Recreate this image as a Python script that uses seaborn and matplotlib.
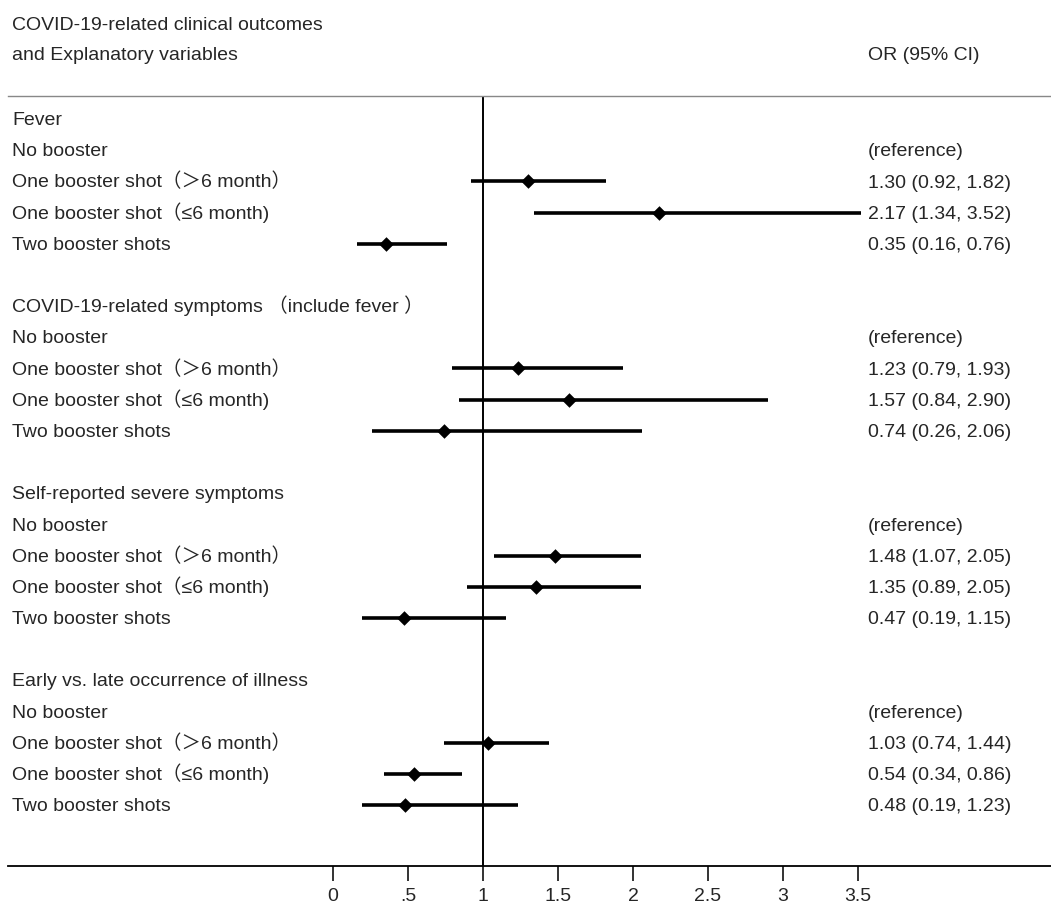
import numpy as np
import pandas as pd
import seaborn as sns
import matplotlib.pyplot as plt
import matplotlib.transforms as mtransforms

# rows of the forest plot, top to bottom ("" = blank spacer row)
labels = [
    "Fever", "No booster", "One booster shot（＞6 month）", "One booster shot（≤6 month)", "Two booster shots", "",
    "COVID-19-related symptoms （include fever ）", "No booster", "One booster shot（＞6 month）",
    "One booster shot（≤6 month)", "Two booster shots", "",
    "Self-reported severe symptoms", "No booster", "One booster shot（＞6 month）",
    "One booster shot（≤6 month)", "Two booster shots", "",
    "Early vs. late occurrence of illness", "No booster", "One booster shot（＞6 month）",
    "One booster shot（≤6 month)", "Two booster shots",
]
or_est = [None, None, 1.30, 2.17, 0.35, None,
          None, None, 1.23, 1.57, 0.74, None,
          None, None, 1.48, 1.35, 0.47, None,
          None, None, 1.03, 0.54, 0.48]
ci_low = [None, None, 0.92, 1.34, 0.16, None,
          None, None, 0.79, 0.84, 0.26, None,
          None, None, 1.07, 0.89, 0.19, None,
          None, None, 0.74, 0.34, 0.19]
ci_high = [None, None, 1.82, 3.52, 0.76, None,
           None, None, 1.93, 2.90, 2.06, None,
           None, None, 2.05, 2.05, 1.15, None,
           None, None, 1.44, 0.86, 1.23]
or_text = ["", "(reference)", "1.30 (0.92, 1.82)", "2.17 (1.34, 3.52)", "0.35 (0.16, 0.76)", "",
           "", "(reference)", "1.23 (0.79, 1.93)", "1.57 (0.84, 2.90)", "0.74 (0.26, 2.06)", "",
           "", "(reference)", "1.48 (1.07, 2.05)", "1.35 (0.89, 2.05)", "0.47 (0.19, 1.15)", "",
           "", "(reference)", "1.03 (0.74, 1.44)", "0.54 (0.34, 0.86)", "0.48 (0.19, 1.23)"]
xticks = [0, 0.5, 1, 1.5, 2, 2.5, 3, 3.5]
xtick_labels = ["0", ".5", "1", "1.5", "2", "2.5", "3", "3.5"]

df = pd.DataFrame({"row": range(len(labels)), "label": labels,
                   "est": or_est, "lo": ci_low, "hi": ci_high})
pts = df.dropna(subset=["est"])

sns.set_style("white")
plt.rcParams['font.family'] = ['Liberation Sans', 'Noto Sans CJK SC', 'DejaVu Sans']
txt_col = "#262626"
fs = 14

fig = plt.figure(figsize=(10.51, 9.08), dpi=100)
W, H = 1051, 908
ax = fig.add_axes([8 / W, (H - 866) / H, (W - 8) / W, (866 - 96) / H])

ax.hlines(pts["row"], pts["lo"], pts["hi"], color="black", lw=2.6, zorder=2)
sns.scatterplot(data=pts, x="est", y="row", marker="D", s=55, color="black",
                edgecolor="black", linewidth=0, ax=ax, zorder=3)
ax.axvline(1, color="black", lw=1.4, zorder=1)

ax.set_xlim((8 - 333) / 150, (W - 333) / 150)
ax.set_ylim((866 - 119) / 31.18, (96 - 119) / 31.18)
ax.set_xticks(xticks)
ax.set_xticklabels(xtick_labels, fontsize=fs, color=txt_col)
ax.set_yticks([])
ax.set_xlabel("")
ax.set_ylabel("")
ax.tick_params(axis="x", bottom=True, direction="out", length=11, width=1.4,
               color="#333333", pad=5)
for s in ["left", "right"]:
    ax.spines[s].set_visible(False)
ax.spines["bottom"].set_color("black")
ax.spines["bottom"].set_linewidth(1.3)
ax.spines["top"].set_color("#888888")
ax.spines["top"].set_linewidth(1.0)

# text on a common baseline so CJK fallback glyphs don't shift rows
base = 0.2
trans = mtransforms.blended_transform_factory(fig.transFigure, ax.transData)
for r, lab, t in zip(df["row"], labels, or_text):
    if lab:
        ax.text(12 / W, r + base, lab, transform=trans, ha="left", va="baseline",
                fontsize=fs, color=txt_col)
    if t:
        ax.text(868 / W, r + base, t, transform=trans, ha="left", va="baseline",
                fontsize=fs, color=txt_col)

fig.text(12 / W, 1 - 25 / H, "COVID-19-related clinical outcomes", ha="left", va="center",
         fontsize=fs, color=txt_col)
fig.text(12 / W, 1 - 56 / H, "and Explanatory variables", ha="left", va="center",
         fontsize=fs, color=txt_col)
fig.text(868 / W, 1 - 56 / H, "OR (95% CI)", ha="left", va="center", fontsize=fs, color=txt_col)

fig.savefig("out.png", dpi=100, facecolor="white")
